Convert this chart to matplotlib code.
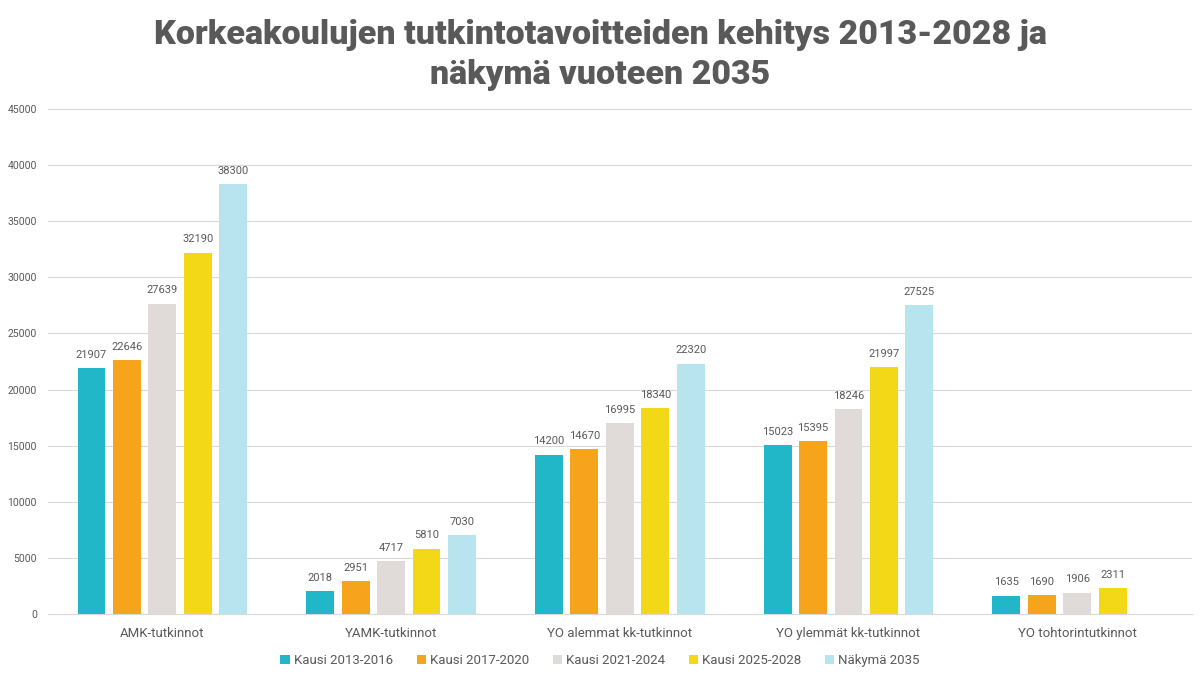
import numpy as np
import matplotlib.pyplot as plt

plt.rcParams['font.family'] = ['Roboto', 'DejaVu Sans']

# data
categories = ["AMK-tutkinnot", "YAMK-tutkinnot", "YO alemmat kk-tutkinnot",
              "YO ylemmät kk-tutkinnot", "YO tohtorintutkinnot"]
series_names = ["Kausi 2013-2016", "Kausi 2017-2020", "Kausi 2021-2024",
                "Kausi 2025-2028", "Näkymä 2035"]
kausi_2013 = [21907, 2018, 14200, 15023, 1635]
kausi_2017 = [22646, 2951, 14670, 15395, 1690]
kausi_2021 = [27639, 4717, 16995, 18246, 1906]
kausi_2025 = [32190, 5810, 18340, 21997, 2311]
nakyma_2035 = [38300, 7030, 22320, 27525, None]
series = [kausi_2013, kausi_2017, kausi_2021, kausi_2025, nakyma_2035]
colors = ["#21B6C8", "#F7A41D", "#E0DBD8", "#F2D816", "#B8E4EF"]

text_col = "#595959"

fig = plt.figure(figsize=(12, 6.79), dpi=100)
ax = fig.add_axes([0.04, 0.0957, 0.953, 0.7438])

x = np.arange(len(categories))
step = 0.155
width = 0.122
for i, (vals, name, c) in enumerate(zip(series, series_names, colors)):
    xs = [xi + (i - 2) * step for xi, v in zip(x, vals) if v is not None]
    vs = [v for v in vals if v is not None]
    bars = ax.bar(xs, vs, width=width, color=c, label=name, zorder=3)
    ax.bar_label(bars, labels=[str(v) for v in vs], padding=6,
                 fontsize=8, color=text_col)

ax.set_xlim(-0.5, len(categories) - 0.5)
ax.set_ylim(0, 45000)
ax.set_yticks(range(0, 45001, 5000))
ax.tick_params(axis='y', length=0, labelsize=7.5, labelcolor=text_col, pad=8)
ax.set_xticks(x, categories)
ax.tick_params(axis='x', length=0, labelsize=9.5, labelcolor=text_col, pad=9)
ax.grid(axis='y', color="#D9D9D9", linewidth=0.8, zorder=0)
for s in ['top', 'right', 'left']:
    ax.spines[s].set_visible(False)
ax.spines['bottom'].set_color("#D9D9D9")

fig.suptitle("Korkeakoulujen tutkintotavoitteiden kehitys 2013-2028 ja\nnäkymä vuoteen 2035",
             fontsize=24.5, fontweight='black', color=text_col, y=0.972, linespacing=1.3)

fig.legend(loc='lower center', bbox_to_anchor=(0.5, 0.0), ncol=5, frameon=False,
           fontsize=9.5, labelcolor=text_col, handlelength=0.7, handleheight=0.7,
           handletextpad=0.3, columnspacing=1.8)

fig.savefig("out.png", dpi=100)
